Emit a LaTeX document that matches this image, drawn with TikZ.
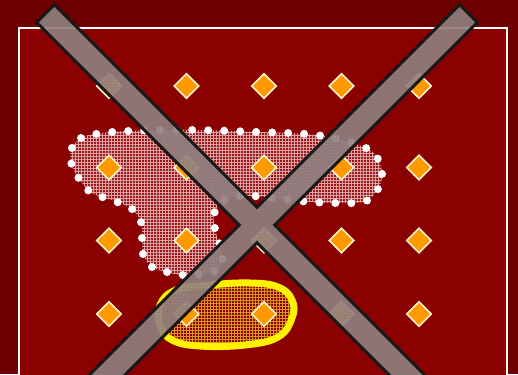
\documentclass[tikz,border=0pt]{standalone}
\usetikzlibrary{shapes.geometric}
\definecolor{bgdark}{RGB}{110,0,0}
\definecolor{bgred}{RGB}{139,0,0}
\definecolor{gemorange}{RGB}{255,153,0}
\definecolor{gemrim}{RGB}{255,246,205}
\definecolor{zonebase}{RGB}{150,25,30}
\definecolor{zoneline}{RGB}{225,160,160}
\definecolor{goldline}{RGB}{215,150,25}
\definecolor{barfill}{RGB}{138,136,136}
\definecolor{barline}{RGB}{165,105,105}

\newcommand{\zoneshape}{plot[smooth cycle, tension=0.6] coordinates {
    (71,150) (81,138) (96,134) (128,131) (193,130) (258,132) (306,134)
    (338,139) (368,149) (379,161) (382,177) (376,192) (363,202) (332,203)
    (299,201) (252,196) (226,199) (214,214) (216,233) (221,249) (222,264)
    (210,273) (183,275) (167,272) (152,267) (143,254) (142,238) (141,222)
    (132,209) (117,202) (102,197) (90,192) (80,180) (72,166)}}
\newcommand{\goldshape}{plot[smooth cycle, tension=0.7] coordinates {
    (160,305) (176,290) (210,285) (250,283) (278,287) (292,300) (292,318)
    (278,337) (245,345) (200,346) (172,340) (160,325)}}
\newcommand{\crossshape}{(x1) -- (x2) -- (x3) -- (x4) -- (x5) -- (x6) -- (x7)
    -- (x8) -- (x9) -- (x10) -- (x11) -- (x12) -- cycle}

\begin{document}
\begin{tikzpicture}[
  x=1pt, y=-1pt,
  gem/.style={diamond, draw=gemrim, fill=gemorange, line width=1.6pt, minimum width=25pt, minimum height=25pt, inner sep=0pt},
  zonegrid/.style={draw=zoneline, line width=0.9pt, step=3pt},
  dotrim/.style={draw=white, line width=8pt, line cap=round, dash pattern=on 0pt off 16pt},
  goldgrid/.style={draw=goldline, line width=0.8pt, step=3pt},
  yellowrim/.style={draw=yellow, line width=7pt},
  xbar/.style={fill=barfill, fill opacity=0.88},
  xgrid/.style={draw=barline, draw opacity=0.4, line width=0.6pt, step=3pt},
  xrim/.style={draw=black!90, line width=3pt, line join=miter}
]
  \useasboundingbox (0,0) rectangle (518,374);
  \clip (0,0) rectangle (518,374);
  % background and frame
  \fill[bgdark] (0,0) rectangle (518,374);
  \draw[white, line width=2pt, fill=bgred] (19,28) rectangle (507,392);
  % dotted zone
  \begin{scope}
    \clip \zoneshape;
    \fill[zonebase] (60,120) rectangle (390,285);
    \draw[zonegrid] (60,120) grid (390,285);
  \end{scope}
  \path[dotrim] \zoneshape;
  % yellow zone
  \begin{scope}
    \clip \goldshape;
    \draw[goldgrid] (150,270) grid (300,354);
  \end{scope}
  \path[yellowrim] \goldshape;
  % diamonds
  \foreach \cx [count=\i] in {109,186.5,264,341.5,419}
    \foreach \cy [count=\j] in {86,167.5,240.5,314}
      \node[gem] (g\i\j) at (\cx,\cy) {};
  % the cross
  \coordinate (x1) at (36.7,22.4);
  \coordinate (x2) at (54.4,4.7);
  \coordinate (x3) at (257,207.3);
  \coordinate (x4) at (459.6,4.7);
  \coordinate (x5) at (477.3,22.4);
  \coordinate (x6) at (274.7,225);
  \coordinate (x7) at (449.7,400);
  \coordinate (x8) at (432,417.7);
  \coordinate (x9) at (257,242.7);
  \coordinate (x10) at (82,417.7);
  \coordinate (x11) at (64.3,400);
  \coordinate (x12) at (239.3,225);
  \path[xbar] \crossshape;
  \begin{scope}
    \clip \crossshape;
    \draw[xgrid] (0,0) grid (518,374);
  \end{scope}
  \path[xrim] \crossshape;
\end{tikzpicture}
\end{document}
